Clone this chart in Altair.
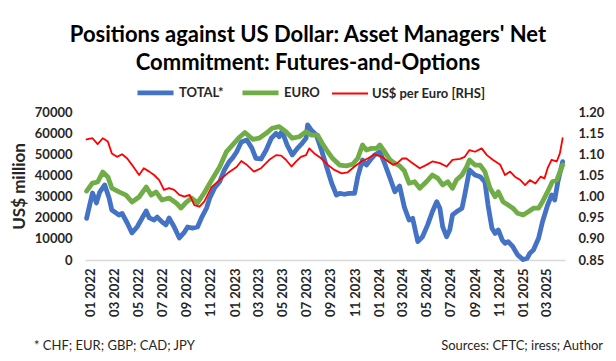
import altair as alt
import pandas as pd

# ---------------- data ----------------
TOTAL_DATES = [
    "2022-01-04", "2022-01-19", "2022-01-29", "2022-02-06", "2022-02-19", "2022-03-02",
    "2022-03-09", "2022-03-27", "2022-04-04", "2022-04-17", "2022-04-29", "2022-05-12",
    "2022-05-22", "2022-06-04", "2022-06-12", "2022-06-24", "2022-07-02", "2022-07-14",
    "2022-07-24", "2022-08-01", "2022-08-14", "2022-08-27", "2022-09-09", "2022-09-17",
    "2022-09-29", "2022-10-12", "2022-10-22", "2022-11-04", "2022-11-12", "2022-11-24",
    "2022-12-07", "2022-12-19", "2022-12-31", "2023-01-09", "2023-01-19", "2023-01-31",
    "2023-02-14", "2023-02-27", "2023-03-09", "2023-03-22", "2023-04-04", "2023-04-17",
    "2023-04-29", "2023-05-07", "2023-05-14", "2023-05-27", "2023-06-09", "2023-06-22",
    "2023-07-04", "2023-07-14", "2023-07-18", "2023-07-27", "2023-08-09", "2023-08-22",
    "2023-09-04", "2023-09-17", "2023-09-29", "2023-10-07", "2023-10-19", "2023-10-31",
    "2023-11-14", "2023-11-22", "2023-12-04", "2023-12-14", "2023-12-27", "2024-01-04",
    "2024-01-17", "2024-01-29", "2024-02-12", "2024-02-24", "2024-03-07", "2024-03-19",
    "2024-03-31", "2024-04-09", "2024-04-22", "2024-05-04", "2024-05-17", "2024-05-29",
    "2024-06-09", "2024-06-17", "2024-06-24", "2024-07-04", "2024-07-12", "2024-07-19",
    "2024-07-29", "2024-08-12", "2024-08-19", "2024-08-31", "2024-09-14", "2024-09-27",
    "2024-10-09", "2024-10-17", "2024-10-27", "2024-11-04", "2024-11-12", "2024-11-22",
    "2024-11-29", "2024-12-07", "2024-12-19", "2024-12-31", "2025-01-14", "2025-01-24",
    "2025-01-31", "2025-02-09", "2025-02-22", "2025-03-04", "2025-03-17", "2025-03-27",
    "2025-04-04", "2025-04-12", "2025-04-24",
]
TOTAL = [
    19700, 31700, 27000, 32000, 35500, 29300,
    23600, 21300, 22000, 17500, 12800, 15600,
    18900, 23200, 19900, 18900, 20300, 18000,
    16600, 19900, 15600, 10400, 13200, 15600,
    15100, 15600, 19900, 24600, 29300, 34000,
    37000, 42600, 46400, 48300, 51100, 55800,
    56800, 52800, 48100, 47800, 52000, 57600,
    59900, 58300, 61000, 54400, 49700, 52800,
    55200, 57600, 63900, 61500, 59100, 52000,
    44100, 36300, 30700, 31500, 31100, 31500,
    31500, 39400, 47300, 44900, 48100, 49700,
    51200, 45700, 38600, 32300, 35000, 25000,
    18900, 19700, 8700, 11000, 16600, 22800,
    27600, 24500, 15800, 11000, 14200, 21300,
    22800, 24500, 30700, 42600, 40200, 39400,
    37000, 26000, 15000, 12600, 14200, 9500,
    7900, 8700, 6300, 2400, 200, 800,
    3200, 4700, 10300, 18100, 26000, 30700,
    28400, 37000, 46500,
]

EURO_DATES = [
    "2022-01-04", "2022-01-19", "2022-02-01", "2022-02-14", "2022-02-27", "2022-03-09",
    "2022-03-27", "2022-04-14", "2022-04-29", "2022-05-17", "2022-06-04", "2022-06-17",
    "2022-06-29", "2022-07-14", "2022-08-01", "2022-08-19", "2022-08-31", "2022-09-14",
    "2022-09-27", "2022-10-12", "2022-10-29", "2022-11-17", "2022-12-07", "2022-12-24",
    "2023-01-09", "2023-01-27", "2023-02-09", "2023-03-01", "2023-03-17", "2023-04-04",
    "2023-04-19", "2023-05-07", "2023-05-24", "2023-06-09", "2023-06-27", "2023-07-14",
    "2023-07-27", "2023-08-12", "2023-08-24", "2023-09-07", "2023-09-19", "2023-10-07",
    "2023-10-24", "2023-11-09", "2023-11-22", "2023-12-04", "2023-12-14", "2023-12-27",
    "2024-01-09", "2024-01-17", "2024-01-29", "2024-02-12", "2024-02-24", "2024-03-07",
    "2024-03-19", "2024-03-31", "2024-04-14", "2024-04-27", "2024-05-14", "2024-05-29",
    "2024-06-12", "2024-06-24", "2024-07-07", "2024-07-19", "2024-07-29", "2024-08-12",
    "2024-08-24", "2024-08-31", "2024-09-14", "2024-09-27", "2024-10-09", "2024-10-22",
    "2024-11-04", "2024-11-12", "2024-11-24", "2024-12-07", "2024-12-19", "2024-12-31",
    "2025-01-14", "2025-01-27", "2025-02-09", "2025-02-22", "2025-03-04", "2025-03-17",
    "2025-03-29", "2025-04-09", "2025-04-24",
]
EURO = [
    32600, 36400, 36900, 41600, 39300, 34000,
    32200, 30700, 27400, 29800, 34500, 30700,
    32200, 28400, 29300, 27000, 24600, 27400,
    29300, 27000, 31700, 37800, 44000, 51100,
    54400, 58200, 60300, 57100, 57600, 59900,
    62300, 63100, 60700, 57600, 58300, 60700,
    59100, 59100, 55200, 51200, 48100, 44900,
    44500, 45300, 48100, 54400, 52000, 52800,
    52800, 54400, 51200, 47300, 45700, 44500,
    42200, 36300, 37000, 33900, 37000, 40200,
    38600, 35500, 37000, 33900, 37800, 40200,
    44100, 47300, 44900, 44900, 41800, 33900,
    29900, 32300, 27600, 26000, 24500, 22100,
    21300, 22800, 24500, 24500, 27600, 32300,
    37000, 37800, 44900,
]

FX_DATES = [
    "2022-01-04", "2022-01-19", "2022-02-01", "2022-02-14", "2022-02-27", "2022-03-09",
    "2022-03-22", "2022-04-04", "2022-04-17", "2022-04-29", "2022-05-17", "2022-05-29",
    "2022-06-12", "2022-06-24", "2022-07-07", "2022-07-19", "2022-08-01", "2022-08-14",
    "2022-08-27", "2022-09-09", "2022-09-22", "2022-10-04", "2022-10-17", "2022-10-29",
    "2022-11-17", "2022-12-07", "2022-12-27", "2023-01-19", "2023-01-31", "2023-02-09",
    "2023-02-14", "2023-03-04", "2023-03-22", "2023-04-12", "2023-04-29", "2023-05-12",
    "2023-05-24", "2023-06-07", "2023-06-19", "2023-07-01", "2023-07-14", "2023-07-22",
    "2023-08-04", "2023-08-22", "2023-09-07", "2023-09-24", "2023-10-12", "2023-10-27",
    "2023-11-14", "2023-12-01", "2023-12-17", "2024-01-04", "2024-01-22", "2024-02-07",
    "2024-02-19", "2024-03-01", "2024-03-14", "2024-03-24", "2024-04-09", "2024-04-27",
    "2024-05-14", "2024-05-29", "2024-06-17", "2024-07-04", "2024-07-19", "2024-08-07",
    "2024-08-19", "2024-08-31", "2024-09-14", "2024-10-01", "2024-10-14", "2024-10-29",
    "2024-11-17", "2024-11-29", "2024-12-12", "2024-12-24", "2025-01-07", "2025-01-19",
    "2025-01-31", "2025-02-14", "2025-02-27", "2025-03-09", "2025-03-17", "2025-03-27",
    "2025-04-09", "2025-04-17", "2025-04-24",
]
FX = [
    1.135, 1.138, 1.124, 1.138, 1.130, 1.102,
    1.094, 1.100, 1.090, 1.075, 1.051, 1.067,
    1.059, 1.051, 1.039, 1.016, 1.020, 1.016,
    1.004, 1.000, 1.004, 0.980, 0.976, 0.988,
    1.023, 1.039, 1.055, 1.070, 1.084, 1.078,
    1.075, 1.059, 1.067, 1.087, 1.098, 1.097,
    1.087, 1.071, 1.083, 1.094, 1.098, 1.114,
    1.102, 1.090, 1.075, 1.063, 1.055, 1.057,
    1.071, 1.083, 1.090, 1.100, 1.094, 1.083,
    1.075, 1.079, 1.090, 1.090, 1.079, 1.067,
    1.075, 1.083, 1.079, 1.071, 1.087, 1.089,
    1.094, 1.110, 1.106, 1.114, 1.098, 1.087,
    1.075, 1.051, 1.059, 1.047, 1.039, 1.027,
    1.039, 1.031, 1.047, 1.043, 1.067, 1.087,
    1.083, 1.102, 1.138,
]

SERIES = ["TOTAL*", "EURO", "US$ per Euro [RHS]"]
COLORS = ["#4472C4", "#70AD47", "#FF0000"]
WIDTHS = [4.8, 4.8, 1.8]

LEFT_TICKS = [0, 10000, 20000, 30000, 40000, 50000, 60000, 70000]
RIGHT_TICKS = [0.85, 0.90, 0.95, 1.00, 1.05, 1.10, 1.15, 1.20]
TICK_MONTHS = [(y, m) for y in (2022, 2023, 2024) for m in (1, 3, 5, 7, 9, 11)] + [(2025, 1), (2025, 3)]

TITLE = ["Positions against US Dollar: Asset Managers' Net",
         "Commitment: Futures-and-Options"]
FOOT_LEFT = "* CHF; EUR; GBP; CAD; JPY"
FOOT_RIGHT = "Sources: CFTC; iress; Author"

# ---------------- frames ----------------
total_df = pd.DataFrame({"date": TOTAL_DATES, "value": TOTAL, "series": SERIES[0]})
euro_df = pd.DataFrame({"date": EURO_DATES, "value": EURO, "series": SERIES[1]})
fx_df = pd.DataFrame({"date": FX_DATES, "fx": FX, "series": SERIES[2]})

FONT = "Lato"
TXT = "#262626"

x_scale = alt.Scale(
    type="utc",
    domain=[alt.DateTime(year=2021, month=12, date=31, utc=True),
            alt.DateTime(year=2025, month=4, date=30, utc=True)],
)
x_axis = alt.Axis(
    values=[alt.DateTime(year=y, month=m, date=15, utc=True) for y, m in TICK_MONTHS],
    format="%m %Y", labelAngle=270, labelOverlap=False, labelFlush=False,
    domain=True, domainColor="#D9D9D9", domainWidth=1.5, ticks=False, grid=False,
    labelFont=FONT, labelFontWeight="bold", labelFontSize=13, labelColor=TXT, labelPadding=8,
)

legend = alt.Legend(
    title=None, orient="none", legendX=50, legendY=-40, direction="horizontal",
    symbolType="stroke", symbolSize=1300, labelFont=FONT, labelFontWeight="bold",
    labelFontSize=13, labelColor=TXT, columnPadding=8, labelOffset=3,
)
color = alt.Color("series:N", scale=alt.Scale(domain=SERIES, range=COLORS), legend=legend)
swidth = alt.StrokeWidth("series:N", scale=alt.Scale(type="ordinal", domain=SERIES, range=WIDTHS),
                         legend=legend)

left_y = alt.Y(
    "value:Q", scale=alt.Scale(domain=[0, 70000]),
    axis=alt.Axis(values=LEFT_TICKS, format="d", title="US$ million", titleFont=FONT,
                  titleFontSize=17, titleFontWeight="bold", titleColor=TXT, titlePadding=6,
                  labelPadding=13, domain=False, ticks=False, grid=False, labelFont=FONT,
                  labelFontWeight="bold", labelFontSize=13, labelColor=TXT),
)

line_kw = dict(strokeJoin="round", strokeCap="round")
x_enc = alt.X("date:T", scale=x_scale, axis=x_axis, title=None)

blue = alt.Chart(total_df).mark_line(**line_kw).encode(
    x=x_enc, y=left_y, color=color, strokeWidth=swidth)
green = alt.Chart(euro_df).mark_line(**line_kw).encode(
    x=x_enc, y=left_y, color=color, strokeWidth=swidth)

red = alt.Chart(fx_df).mark_line(**line_kw).encode(
    x=x_enc,
    y=alt.Y("fx:Q", scale=alt.Scale(domain=[0.85, 1.20], zero=False),
            axis=alt.Axis(orient="right", values=RIGHT_TICKS, format=".2f", title=None,
                          labelPadding=13, domain=False, ticks=False, grid=False,
                          labelFont=FONT, labelFontWeight="bold", labelFontSize=13,
                          labelColor=TXT)),
    color=color, strokeWidth=swidth,
)

foot_l = alt.Chart(pd.DataFrame({"t": [FOOT_LEFT]})).mark_text(
    align="left", baseline="middle", font=FONT, fontSize=13, color=TXT
).encode(text="t:N", x=alt.value(-51), y=alt.value(234))
foot_r = alt.Chart(pd.DataFrame({"t": [FOOT_RIGHT]})).mark_text(
    align="right", baseline="middle", font=FONT, fontSize=13, color=TXT
).encode(text="t:N", x=alt.value(518), y=alt.value(234))

left = alt.layer(blue, green)
chart = alt.layer(left, red, foot_l, foot_r).resolve_scale(y="independent").properties(
    width=480, height=148,
    padding={"left": 77, "top": 104, "right": 43, "bottom": 93},
    autosize=alt.AutoSizeParams(type="none"),
    title=alt.Title(TITLE, font=FONT, fontSize=22, fontWeight="bold", color="#000000",
                    anchor="middle", dx=-17, offset=-3, lineHeight=28),
    background="white",
).configure_view(stroke=None)

chart.save("out.html", embed_options={"renderer": "svg", "actions": False})
